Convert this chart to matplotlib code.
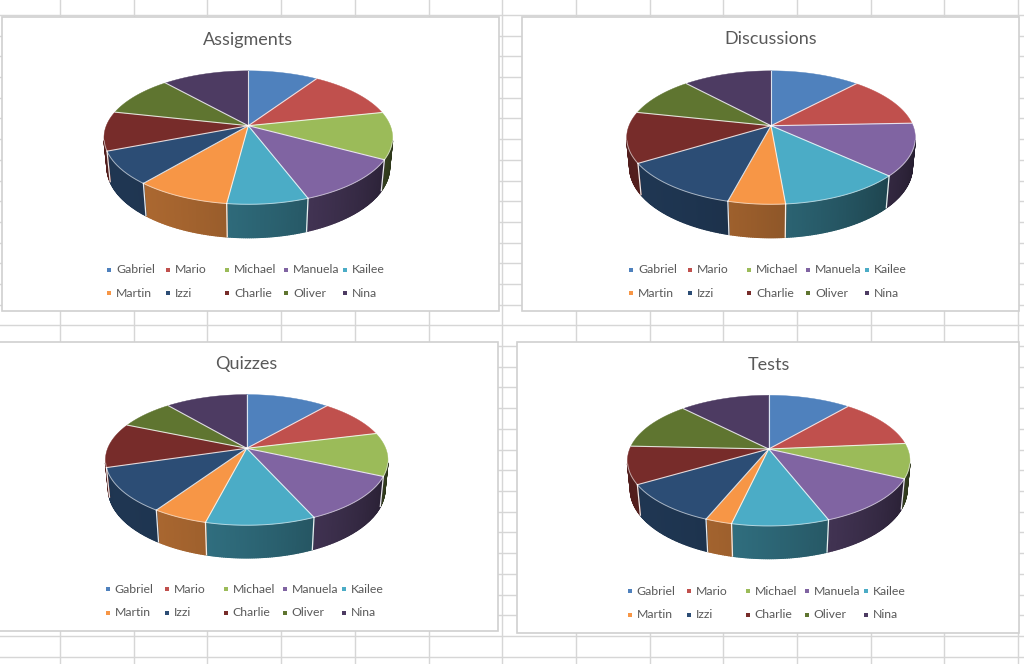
import numpy as np
import matplotlib.pyplot as plt
from matplotlib.patches import Polygon, Rectangle
from matplotlib.collections import PolyCollection
from matplotlib.colors import to_rgb

# Data (shares in %)
names = ['Gabriel', 'Mario', 'Michael', 'Manuela', 'Kailee',
         'Martin', 'Izzi', 'Charlie', 'Oliver', 'Nina']
colors = ['#4F81BD', '#C0504D', '#9BBB59', '#8064A2', '#4BACC6',
          '#F79646', '#2C4D75', '#772C2A', '#5F7530', '#4D3B62']

assignments = [9.3, 12.3, 11.4, 11.3, 7.7, 9.0, 8.0, 9.5, 10.0, 11.5]
discussions = [11.9, 12.5, 0.0, 12.6, 11.7, 5.4, 12.1, 12.3, 9.8, 11.8]
quizzes     = [11.3, 9.8, 10.7, 11.6, 10.6, 5.4, 11.0, 11.1, 7.5, 11.1]
tests       = [11.2, 12.4, 8.6, 12.0, 9.4, 2.6, 10.3, 9.3, 12.1, 12.2]

titles = ['Assigments', 'Discussions', 'Quizzes', 'Tests']
series = [assignments, discussions, quizzes, tests]

# chart frames (x0, y0, x1, y1), pie centre, radius, title y, legend origin
frames = [(2, 17, 499, 311), (522, 17, 1019, 311),
          (-1, 342, 498, 631), (517, 342, 1019, 633)]
centres = [(248.3, 125.7), (771.0, 125.7), (246.7, 448.3), (768.7, 449.0)]
radii = [142, 142, 139, 139]
title_y = [39.5, 39.3, 364.0, 365.0]
legend_xy = [(109, 269.7), (631.3, 269.7), (107.7, 589.3), (629.7, 591.3)]

TEXT = '#595959'
plt.rcParams['font.family'] = ['Lato', 'DejaVu Sans']

SIN_T = 0.455
COS_T = np.sqrt(1 - SIN_T ** 2)
DIST = 5.0
THICK = 0.235
ALPHA = np.arcsin(1 / (DIST * COS_T))


def project(cx, cy, rad, theta, z, r=1.0):
    X = r * np.cos(theta)
    Y = r * np.sin(theta)
    ycam = Y * SIN_T + z * COS_T
    depth = Y * COS_T - z * SIN_T
    s = DIST / (DIST + depth)
    return cx + rad * X * s, cy - rad * ycam * s


def shade(col, theta):
    f = 0.45 + 0.25 * np.cos(theta - np.deg2rad(215))
    return tuple(np.clip(np.array(to_rgb(col)) * f, 0, 1))


def draw_pie(ax, values, cx, cy, rad):
    vals = np.asarray(values, float)
    frac = vals / vals.sum()
    starts = np.pi / 2 - 2 * np.pi * np.concatenate([[0], np.cumsum(frac)[:-1]])
    ends = starts - 2 * np.pi * frac
    lo, hi = -np.pi + ALPHA, -ALPHA

    # side walls
    quads, qcols = [], []
    for t0, t1, col, f in zip(starts, ends, colors, frac):
        if f <= 0:
            continue
        a, b = max(t1, lo), min(t0, hi)
        if a >= b:
            continue
        th = np.linspace(b, a, max(3, int(np.degrees(b - a) * 1.5)))
        for p, q in zip(th[:-1], th[1:]):
            x1, y1 = project(cx, cy, rad, p, 0)
            x2, y2 = project(cx, cy, rad, q, 0)
            x3, y3 = project(cx, cy, rad, q, -THICK)
            x4, y4 = project(cx, cy, rad, p, -THICK)
            quads.append([(x1, y1), (x2, y2), (x3, y3), (x4, y4)])
            qcols.append(shade(col, (p + q) / 2))
    ax.add_collection(PolyCollection(quads, facecolors=qcols, edgecolors=qcols,
                                     linewidths=1.1, zorder=3))

    # top faces
    for t0, t1, col, f in zip(starts, ends, colors, frac):
        if f <= 0:
            continue
        th = np.linspace(t0, t1, max(3, int(np.degrees(t0 - t1) * 2)))
        xs, ys = project(cx, cy, rad, th, 0)
        pts = np.column_stack([np.r_[cx, xs], np.r_[cy, ys]])
        ax.add_patch(Polygon(pts, closed=True, facecolor=col, edgecolor=col,
                             lw=0.3, zorder=4))

    # slice separators
    for t0, f in zip(starts, frac):
        if f <= 0:
            continue
        xr, yr = project(cx, cy, rad, t0, 0)
        ax.plot([cx, xr], [cy, yr], color='white', lw=0.8, alpha=0.8, zorder=5)
        if lo < t0 < hi:
            xb, yb = project(cx, cy, rad, t0, -THICK)
            ax.plot([xr, xb], [yr, yb], color='white', lw=0.9, alpha=0.9, zorder=5)
    th = np.linspace(lo, hi, 300)
    xs, ys = project(cx, cy, rad, th, 0)
    ax.plot(xs, ys, color='white', lw=0.7, alpha=0.6, zorder=5)


fig = plt.figure(figsize=(10.24, 6.64), dpi=100)
ax = fig.add_axes([0, 0, 1, 1])
ax.set_xlim(0, 1024)
ax.set_ylim(664, 0)
ax.axis('off')

# spreadsheet grid
for gx in 60 + 73.7 * np.arange(0, 14):
    ax.axvline(gx, color='#d6d6d6', lw=1, zorder=0)
for gy in 14.9 + 20.7 * np.arange(0, 32):
    ax.axhline(gy, color='#d6d6d6', lw=1, zorder=0)

for k in range(4):
    x0, y0, x1, y1 = frames[k]
    ax.add_patch(Rectangle((x0, y0), x1 - x0, y1 - y0, facecolor='white',
                           edgecolor='#d0d0d0', lw=1.2, zorder=1))
    cx, cy = centres[k]
    draw_pie(ax, series[k], cx, cy, radii[k])
    ax.text(cx, title_y[k], titles[k], ha='center', va='center',
            fontsize=13, color=TEXT, zorder=6)
    lx, ly = legend_xy[k]
    for i, (nm, col) in enumerate(zip(names, colors)):
        px = lx + 59 * (i % 5)
        py = ly + 23.6 * (i // 5)
        ax.scatter([px], [py], marker='s', s=11, color=col, lw=0, zorder=6)
        ax.text(px + 7, py, nm, ha='left', va='center', fontsize=8.8,
                color=TEXT, zorder=6)

fig.savefig('out.png', dpi=100)
